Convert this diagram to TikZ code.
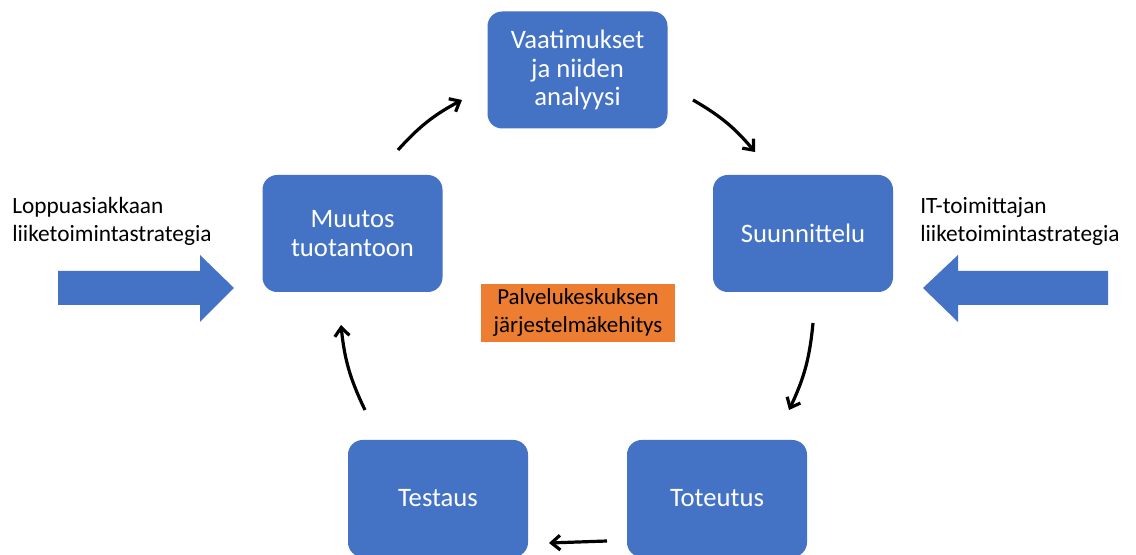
\documentclass[tikz,border=0pt]{standalone}
\usepackage{fontspec}
\setmainfont{Carlito}
\usetikzlibrary{arrows.meta}
\definecolor{ofblue}{HTML}{4472C4}
\definecolor{oforange}{HTML}{ED7D31}
\begin{document}
\begin{tikzpicture}[x=0.75pt,y=-0.75pt,
  phase/.style={fill=ofblue, rounded corners=11pt, minimum width=135pt, minimum height=87.75pt,
    text=white, font=\fontsize{20}{21.3}\selectfont, align=center, inner sep=0pt},
  core/.style={fill=oforange, minimum width=145.5pt, minimum height=43.5pt,
    font=\fontsize{17.2}{21}\selectfont, align=center, inner sep=0pt},
  flow/.style={-{Straight Barb[length=6.5pt,width=11pt]}, line width=2.4pt, black},
  side/.style={anchor=west, align=left, font=\fontsize{17.5}{21}\selectfont, inner sep=0pt},
  bigarrow/.style={fill=ofblue}]
\useasboundingbox (0,0) rectangle (1136,555);
\clip (0,0) rectangle (1136,555);
\fill[white] (0,0) rectangle (1136,555);

\node[phase] (vaat) at (577.5,70) {Vaatimukset\\ja niiden\\analyysi};
\node[phase] (suun) at (803,233.5) {Suunnittelu};
\node[phase] (muut) at (352.5,233.5) {Muutos\\tuotantoon};
\node[phase] (test) at (438,498.5) {Testaus};
\node[phase] (tot) at (717,498.5) {Toteutus};
\node[core] (core) at (578,313) {Palvelukeskuksen\\järjestelmäkehitys};

\node[side] (lt) at (12,221) {Loppuasiakkaan\\liiketoimintastrategia};
\node[side] (rt) at (920,221) {IT-toimittajan\\liiketoimintastrategia};

\fill[bigarrow] (58,271) -- (200,271) -- (200,255) -- (234,288) -- (200,322) -- (200,305) -- (58,305) -- cycle;
\fill[bigarrow] (1108,271) -- (958,271) -- (958,255) -- (923,288) -- (958,322) -- (958,305) -- (1108,305) -- cycle;

\coordinate (a1s) at (398,150);
\coordinate (a1e) at (462,100);
\coordinate (a2s) at (693,100);
\coordinate (a2e) at (755,152);
\coordinate (a3s) at (813,323);
\coordinate (a3e) at (789,410);
\coordinate (a4s) at (607,541);
\coordinate (a4e) at (549,543);
\coordinate (a5s) at (365,410);
\coordinate (a5e) at (341,325);

\draw[flow] (a1s) to[bend left=10] (a1e);
\draw[flow] (a2s) to[bend left=10] (a2e);
\draw[flow] (a3s) to[bend left=10] (a3e);
\draw[flow] (a4s) to (a4e);
\draw[flow] (a5s) to[bend left=10] (a5e);
\end{tikzpicture}
\end{document}
